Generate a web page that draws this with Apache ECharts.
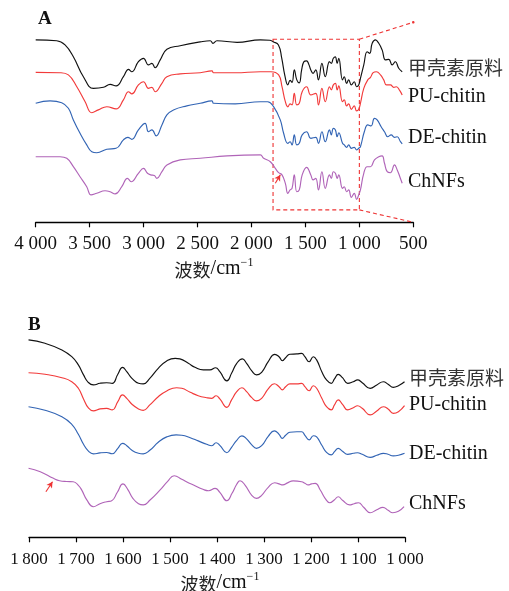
<!DOCTYPE html>
<html><head><meta charset="utf-8">
<script src="https://cdn.jsdelivr.net/npm/echarts@6/dist/echarts.min.js"></script>
<style>html,body{margin:0;padding:0;background:#fff}#c{width:509px;height:591px}</style>
</head><body><div id="c"></div>
<script>
// ---------- DATA (wavenumber cm-1, relative transmittance a.u.) ----------
const seriesNames = ['甲壳素原料', 'PU-chitin', 'DE-chitin', 'ChNFs'];
const colors = ['#111111', '#f23a3a', '#3264b4', '#b064b8'];

// Panel A: 4000-600 cm-1
const A_raw = [[4000,91.2],[3805,90.8],[3728,88.7],[3651,82.8],[3558,72.8],[3465,67.0],[3372,67.5],[3310,69.0],[3255,68.2],[3187,72.8],[3140,76.5],[3109,75.3],[3048,80.3],[3001,82.0],[2955,78.7],[2923,79.5],[2893,77.3],[2846,81.2],[2784,86.5],[2661,88.3],[2475,90.2],[2382,90.8],[2357,89.5],[2320,90.8],[2134,90.0],[1918,91.2],[1830,91.0],[1800,90.3],[1750,88.7],[1720,82.2],[1690,73.2],[1663,68.7],[1642,71.0],[1624,70.0],[1603,76.2],[1580,71.2],[1557,69.7],[1535,76.2],[1515,80.2],[1489,80.7],[1470,79.2],[1450,76.2],[1429,74.5],[1404,76.2],[1379,71.2],[1347,79.5],[1316,72.8],[1277,80.3],[1260,79.5],[1241,82.0],[1223,82.7],[1206,79.5],[1191,82.0],[1156,71.2],[1140,72.8],[1118,69.5],[1099,71.2],[1074,68.7],[1047,70.3],[1026,67.8],[1006,68.7],[990,72.0],[959,78.7],[928,85.3],[904,84.5],[881,89.5],[851,91.2],[820,89.5],[789,86.2],[758,81.2],[727,81.5],[696,78.7],[666,80.3],[635,77.0],[603,75.3]];
const A_pu = [[4000,75.0],[3774,74.8],[3697,73.7],[3619,67.8],[3542,60.3],[3480,54.8],[3419,56.2],[3341,57.8],[3255,56.7],[3187,61.2],[3140,65.3],[3109,64.2],[3048,68.7],[3001,70.3],[2955,67.0],[2923,67.5],[2893,65.3],[2830,69.5],[2784,72.8],[2661,74.2],[2475,74.8],[2366,75.7],[2352,74.8],[2150,74.8],[1918,75.3],[1820,75.3],[1748,73.7],[1717,67.8],[1686,60.3],[1663,57.7],[1642,59.2],[1624,58.7],[1603,64.5],[1580,58.7],[1557,59.5],[1530,65.3],[1489,67.8],[1450,63.7],[1404,64.5],[1379,58.7],[1347,67.0],[1316,60.3],[1277,67.8],[1260,66.2],[1241,68.7],[1222,69.5],[1206,66.2],[1191,68.2],[1156,60.3],[1140,61.2],[1118,58.2],[1099,59.2],[1074,56.5],[1047,58.2],[1026,55.7],[1006,56.5],[990,59.5],[959,67.0],[922,71.2],[897,72.5],[872,74.8],[842,75.3],[804,73.7],[774,71.2],[749,68.7],[712,68.7],[681,67.5],[656,67.8],[625,65.8],[603,63.7]];
const A_de = [[4000,59.5],[3867,60.7],[3759,59.8],[3697,57.0],[3651,51.2],[3589,44.5],[3527,38.7],[3480,35.3],[3434,34.8],[3341,36.5],[3255,37.0],[3187,41.2],[3146,42.5],[3109,41.5],[3048,46.2],[2986,49.5],[2955,45.3],[2923,46.2],[2883,43.2],[2830,48.7],[2784,53.7],[2723,56.2],[2599,58.2],[2475,59.5],[2366,60.7],[2352,59.5],[2150,59.2],[1918,60.3],[1850,60.3],[1795,57.8],[1733,51.2],[1702,44.5],[1663,39.5],[1642,40.3],[1624,38.7],[1603,43.7],[1580,38.7],[1557,39.5],[1530,43.7],[1489,45.3],[1450,42.0],[1404,42.5],[1379,39.5],[1347,45.3],[1316,40.3],[1277,46.2],[1260,43.7],[1241,47.0],[1222,46.2],[1206,42.8],[1191,44.8],[1156,39.5],[1140,38.7],[1118,37.5],[1099,38.7],[1074,37.0],[1047,37.5],[1026,36.2],[1006,37.0],[990,37.8],[954,45.3],[922,48.7],[891,48.2],[860,52.0],[835,51.2],[798,47.8],[767,45.3],[737,42.8],[705,43.7],[674,42.5],[649,42.8],[619,40.3],[603,39.2]];
const A_chnf = [[4000,32.8],[3774,32.8],[3712,32.0],[3651,27.8],[3589,22.8],[3527,17.8],[3487,13.7],[3434,14.5],[3357,15.8],[3310,15.3],[3264,14.2],[3202,17.8],[3150,22.0],[3115,20.3],[3048,24.5],[3001,27.0],[2964,24.5],[2933,23.7],[2900,23.4],[2877,22.0],[2830,25.3],[2784,28.7],[2661,31.2],[2475,32.0],[2227,33.2],[1918,33.7],[1887,32.0],[1825,30.3],[1779,27.0],[1748,24.8],[1717,23.7],[1686,19.5],[1663,14.5],[1642,16.2],[1624,17.0],[1603,23.7],[1580,15.3],[1557,16.2],[1530,23.7],[1489,27.5],[1450,23.7],[1429,21.2],[1404,22.0],[1379,16.2],[1347,25.3],[1316,17.0],[1277,23.7],[1260,22.0],[1241,25.3],[1222,24.5],[1206,22.0],[1191,23.7],[1156,17.0],[1140,17.8],[1118,15.3],[1099,16.2],[1074,12.5],[1047,14.5],[1026,11.5],[1006,13.7],[990,16.2],[959,24.5],[928,27.8],[897,27.8],[860,31.2],[820,32.8],[789,33.2],[767,29.5],[742,25.3],[712,24.8],[674,28.7],[649,26.2],[625,22.8],[603,19.5]];

// Panel B: 1800-1000 cm-1 (zoom)
const B_raw = [[1801,98.7],[1766,97.0],[1730,93.7],[1709,90.3],[1695,86.2],[1684,81.2],[1674,77.5],[1663,76.2],[1649,77.0],[1635,77.3],[1623,77.0],[1611,81.5],[1601,85.0],[1592,82.8],[1581,79.5],[1567,77.0],[1557,76.7],[1543,79.5],[1525,84.5],[1507,88.2],[1489,89.5],[1479,89.2],[1461,87.0],[1447,85.0],[1429,83.7],[1415,83.7],[1403,84.8],[1394,82.8],[1379,78.2],[1369,82.0],[1358,87.0],[1346,89.2],[1337,87.0],[1326,83.2],[1316,81.2],[1305,82.5],[1291,87.8],[1277,91.5],[1268,90.3],[1261,88.3],[1254,89.8],[1245,91.5],[1230,91.7],[1220,92.0],[1213,90.3],[1204,87.8],[1195,90.3],[1188,88.7],[1177,82.8],[1167,78.7],[1157,77.0],[1150,79.2],[1142,81.5],[1133,79.8],[1122,77.0],[1110,77.8],[1101,78.7],[1091,77.3],[1074,74.5],[1060,76.2],[1046,77.8],[1036,76.5],[1025,75.0],[1014,75.8],[1001,77.8]];
const B_pu = [[1801,82.3],[1766,81.5],[1730,79.8],[1709,77.8],[1695,74.5],[1684,69.2],[1674,64.8],[1663,63.2],[1649,64.2],[1635,64.5],[1623,63.7],[1611,67.8],[1601,71.2],[1592,69.5],[1581,66.5],[1567,64.2],[1557,63.5],[1543,66.2],[1525,70.3],[1507,73.2],[1486,74.8],[1475,74.5],[1457,72.5],[1440,70.8],[1422,69.8],[1411,69.5],[1402,70.8],[1394,69.2],[1379,65.0],[1369,68.7],[1358,72.8],[1347,74.8],[1337,72.8],[1326,69.8],[1316,68.2],[1305,69.5],[1291,74.2],[1278,76.8],[1268,75.3],[1261,73.7],[1254,75.3],[1245,76.7],[1230,76.7],[1220,77.0],[1213,75.3],[1204,73.3],[1195,75.8],[1188,74.5],[1177,69.5],[1167,65.3],[1157,63.7],[1150,66.2],[1142,68.7],[1133,66.5],[1122,63.7],[1110,64.8],[1101,65.8],[1091,64.5],[1074,61.2],[1060,63.2],[1046,65.3],[1036,64.2],[1025,62.0],[1014,62.8],[1001,65.8]];
const B_de = [[1801,65.3],[1766,63.5],[1730,60.3],[1709,56.5],[1695,51.5],[1684,46.5],[1674,43.2],[1663,41.7],[1649,42.2],[1635,42.4],[1623,41.8],[1611,44.5],[1601,47.0],[1592,45.8],[1581,43.5],[1567,42.0],[1557,41.7],[1543,43.5],[1525,47.5],[1507,50.2],[1487,51.2],[1475,51.0],[1457,49.8],[1440,48.2],[1422,46.5],[1411,45.8],[1402,47.3],[1394,46.0],[1379,42.3],[1369,45.0],[1358,48.5],[1347,50.7],[1337,49.2],[1326,46.2],[1316,44.5],[1305,45.8],[1291,50.5],[1278,53.2],[1268,51.5],[1261,49.5],[1254,51.0],[1245,52.5],[1230,52.8],[1220,52.8],[1213,51.0],[1204,48.7],[1195,50.8],[1188,50.2],[1177,46.0],[1167,42.5],[1157,41.2],[1150,42.8],[1142,44.5],[1133,43.0],[1122,41.5],[1110,42.0],[1101,42.3],[1091,41.5],[1074,40.0],[1060,41.0],[1046,42.0],[1036,41.5],[1025,40.7],[1014,41.0],[1001,42.0]];
const B_chnf = [[1801,34.5],[1776,32.8],[1748,29.5],[1735,28.3],[1720,27.9],[1706,27.8],[1695,26.0],[1688,23.7],[1677,18.7],[1663,15.3],[1649,16.8],[1635,17.8],[1624,18.3],[1612,22.5],[1600,26.7],[1590,24.0],[1579,19.5],[1567,16.8],[1557,16.2],[1543,18.5],[1521,23.7],[1505,28.0],[1491,30.8],[1475,29.0],[1460,27.2],[1450,26.2],[1430,24.0],[1418,23.3],[1404,24.5],[1394,22.5],[1379,18.3],[1368,22.0],[1358,26.5],[1351,28.3],[1340,26.0],[1326,21.0],[1316,19.5],[1305,21.0],[1291,25.0],[1277,27.3],[1268,26.7],[1260,26.2],[1250,27.2],[1238,28.2],[1220,27.8],[1213,27.0],[1206,26.2],[1199,26.7],[1191,27.0],[1180,23.5],[1170,19.5],[1160,17.3],[1150,18.8],[1142,20.3],[1133,18.5],[1118,16.2],[1108,16.8],[1099,17.3],[1088,15.0],[1074,12.3],[1060,13.8],[1047,15.0],[1036,13.5],[1026,12.3],[1014,13.0],[1002,15.3]];

// Annotations (data coordinates)
const zoomBoxA = {wnFrom: 1800, wnTo: 1000, tTop: 91.5, tBottom: 6.2};
const arrowA = [[1779, 19.5], [1733, 23.7]];
const arrowB = [[1764, 22.8], [1750, 27.8]];

const ticksA = {min: 500, max: 4000, step: 500};
const ticksB = {min: 1000, max: 1800, step: 100};
// -----------------------------------------------------------------------

const SERIF = "'Liberation Serif','Times New Roman',serif";
const CJK = "'Noto Sans CJK SC','Noto Sans CJK JP',sans-serif";

function fmt(sep) {
  return function (v) {
    if (v >= 1000) return Math.floor(v / 1000) + sep + String(v % 1000).padStart(3, '0');
    return String(v);
  };
}

function xAxisOf(gi, t, fs, margin, sep) {
  return {
    gridIndex: gi, type: 'value', min: t.min, max: t.max, interval: t.step, inverse: true,
    axisLine: {show: true, onZero: false, lineStyle: {color: '#000', width: 1.3}},
    axisTick: {show: true, inside: false, length: 5, lineStyle: {color: '#000', width: 1.2}},
    axisLabel: {margin: margin, fontFamily: SERIF, fontSize: fs, color: '#111', formatter: fmt(sep), showMinLabel: true, showMaxLabel: true},
    splitLine: {show: false}
  };
}

const red = '#ee3333';
const dataA = [A_raw, A_pu, A_de, A_chnf];
const dataB = [B_raw, B_pu, B_de, B_chnf];
const series = [];
dataA.forEach((d, i) => {
  const s = {
    name: seriesNames[i], type: 'line', xAxisIndex: 0, yAxisIndex: 0, data: d,
    showSymbol: false, symbol: 'none', smooth: 0.45,
    lineStyle: {color: colors[i], width: 1.15}, itemStyle: {color: colors[i]},
    emphasis: {disabled: true}, silent: true, animation: false, z: 3
  };
  if (i === 3) {
    s.markArea = {
      silent: true, label: {show: false},
      itemStyle: {color: 'rgba(0,0,0,0)', borderColor: red, borderWidth: 1.1, borderType: [4, 3]},
      data: [[{coord: [zoomBoxA.wnFrom, zoomBoxA.tTop]}, {coord: [zoomBoxA.wnTo, zoomBoxA.tBottom]}]]
    };
    s.markLine = {
      silent: true, animation: false, label: {show: false}, symbol: ['none', 'none'],
      lineStyle: {color: red, width: 1.1, type: [4, 3]},
      emphasis: {disabled: true},
      data: [
        [{coord: [zoomBoxA.wnTo, zoomBoxA.tTop]}, {coord: [ticksA.min, 100], symbol: 'circle', symbolSize: 2.5}],
        [{coord: [zoomBoxA.wnTo, zoomBoxA.tBottom]}, {coord: [ticksA.min, 0]}],
        [{coord: arrowA[0], lineStyle: {type: 'solid', width: 1.1}}, {coord: arrowA[1], symbol: 'arrow', symbolSize: [5, 6]}]
      ]
    };
  }
  series.push(s);
});
dataB.forEach((d, i) => {
  const s = {
    name: seriesNames[i] + ' (B)', type: 'line', xAxisIndex: 1, yAxisIndex: 1, data: d,
    showSymbol: false, symbol: 'none', smooth: 0.5,
    lineStyle: {color: colors[i], width: 1.15}, itemStyle: {color: colors[i]},
    emphasis: {disabled: true}, silent: true, animation: false, z: 3
  };
  if (i === 3) {
    s.markLine = {
      silent: true, animation: false, label: {show: false}, symbol: ['none', 'none'],
      lineStyle: {color: red, width: 1.1, type: 'solid'},
      emphasis: {disabled: true},
      data: [[{coord: arrowB[0]}, {coord: arrowB[1], symbol: 'arrow', symbolSize: [5, 6]}]]
    };
  }
  series.push(s);
});

function txt(x, y, text, font, fill) {
  return {type: 'text', x: x, y: y, silent: true,
    style: {text: text, font: font, fill: fill || '#111', align: 'left', textAlign: 'left', verticalAlign: 'middle', textVerticalAlign: 'middle'}};
}
function axisName(x, y) {
  return {type: 'text', x: x, y: y, silent: true,
    style: {
      text: '{c|波数}{a|/cm}{s|\u22121}', align: 'center', textAlign: 'center', verticalAlign: 'middle', textVerticalAlign: 'middle',
      rich: {
        c: {fontFamily: CJK, fontSize: 18, fill: '#222', lineHeight: 22, verticalAlign: 'bottom'},
        a: {fontFamily: SERIF, fontSize: 20, fill: '#111', lineHeight: 22, verticalAlign: 'bottom'},
        s: {fontFamily: SERIF, fontSize: 12, fill: '#111', lineHeight: 22, verticalAlign: 'top'}
      }
    }};
}

const labelFontEn = '20px ' + SERIF;
const labelFontCn = '19px ' + CJK;
const graphic = [
  txt(38, 19, 'A', 'bold 19px ' + SERIF),
  txt(28, 325, 'B', 'bold 19px ' + SERIF),
  txt(408, 68, seriesNames[0], labelFontCn, '#333'),
  txt(408, 97, seriesNames[1], labelFontEn),
  txt(408, 138, seriesNames[2], labelFontEn),
  txt(408, 182, seriesNames[3], labelFontEn),
  txt(409, 378, seriesNames[0], labelFontCn, '#333'),
  txt(409, 405, seriesNames[1], labelFontEn),
  txt(409, 454, seriesNames[2], labelFontEn),
  txt(409, 504, seriesNames[3], labelFontEn),
  axisName(214, 268),
  axisName(220, 582)
];

const chart = echarts.init(document.getElementById('c'), null, {renderer: 'canvas'});
chart.setOption({
  backgroundColor: '#fff',
  animation: false,
  grid: [
    {left: 35.7, right: 95.7, top: 22.3, bottom: 368.7},
    {left: 29, right: 104, top: 337.3, bottom: 53.7}
  ],
  xAxis: [xAxisOf(0, ticksA, 19, 12, ' '), xAxisOf(1, ticksB, 17, 14, '\u2009')],
  yAxis: [
    {gridIndex: 0, type: 'value', min: 0, max: 100, show: false},
    {gridIndex: 1, type: 'value', min: 0, max: 100, show: false}
  ],
  series: series,
  graphic: graphic
});
</script></body></html>
